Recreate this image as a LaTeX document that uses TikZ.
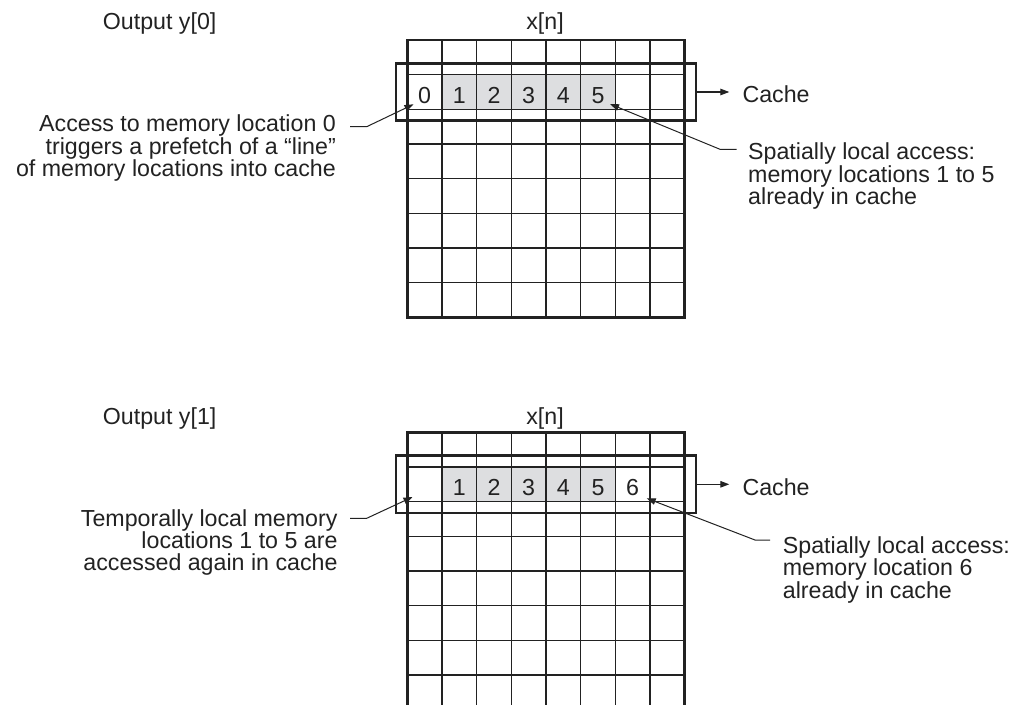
\documentclass[tikz,border=0pt]{standalone}
\usepackage{fontspec}
\setmainfont{Liberation Sans}
\usetikzlibrary{arrows.meta,calc}
\definecolor{ink}{RGB}{34,34,34}
\definecolor{cellgray}{RGB}{221,222,224}
\begin{document}
\begin{tikzpicture}[x=1pt,y=-1pt,
  txt/.style={font=\fontsize{23.2}{21.4}\selectfont, inner sep=0pt, text=ink},
  gridline/.style={line width=1.3pt, draw=ink},
  frame/.style={line width=2.6pt, draw=ink},
  leader/.style={line width=1pt, draw=ink},
  tipa/.style={-{Triangle[length=9pt,width=6.5pt]}},
  cachebox/.style={frame, minimum width=300pt, minimum height=57.4pt, inner sep=0pt},
]
\clip (0,0) rectangle (1016,704);
\fill[white] (0,0) rectangle (1016,704);
\def\gx{407.3}
\def\cw{34.675}
% ---------- two panels: grid, grey cells, cache box ----------
\foreach \p/\oy in {A/0,B/392.3}{
  \begin{scope}[shift={(0,\oy)}]
    \fill[cellgray] (\gx+\cw,40+\cw) rectangle (\gx+6*\cw,40+2*\cw);
    \foreach \i in {1,...,7}{
      \draw[gridline] (\gx+\i*\cw,40) -- (\gx+\i*\cw,40+8*\cw);
      \draw[gridline] (\gx,40+\i*\cw) -- (\gx+8*\cw,40+\i*\cw);
    }
    \draw[frame] (\gx,40) rectangle (\gx+8*\cw,40+8*\cw);
    \node[cachebox] (cache\p) at (546,92) {};
    \node[txt, anchor=west] (cachelbl\p) at (742.3,94.5) {Cache};
    \draw[leader, line width=1.2pt, tipa, shorten >=13pt] (cache\p.east) -- (cache\p.east -| cachelbl\p.west);
  \end{scope}
}
% ---------- titles ----------
\node[txt, anchor=base west] (outA) at (102.7,29.5) {Output y[0]};
\node[txt, anchor=base] (xnA) at (545,29.5) {x[n]};
\node[txt, anchor=base west] (outB) at (102.7,424.3) {Output y[1]};
\node[txt, anchor=base] (xnB) at (545,424.3) {x[n]};
% ---------- digits ----------
\foreach \i in {0,...,5}{
  \node[txt, anchor=base] (dA\i) at (\gx+\i*\cw+0.5*\cw,103.3) {\i};
}
\foreach \i in {1,...,6}{
  \node[txt, anchor=base] (dB\i) at (\gx+\i*\cw+0.5*\cw,495.6) {\i};
}
% ---------- annotation labels ----------
\node[txt, anchor=north east, align=right] (noteA) at (336,114.5)
  {Access to memory location 0\\triggers a prefetch of a “line”\\of memory locations into cache};
\node[txt, anchor=north west, align=left] (spatA) at (748,142.5)
  {Spatially local access:\\memory locations 1 to 5\\already in cache};
\node[txt, anchor=north east, align=right] (noteB) at (337.7,509)
  {Temporally local memory\\locations 1 to 5 are\\accessed again in cache};
\node[txt, anchor=north west, align=left] (spatB) at (782.7,536)
  {Spatially local access:\\memory location 6\\already in cache};
% ---------- leaders ----------
\coordinate (sA) at (350,126.7);
\coordinate (bA) at (366.7,126.7);
\coordinate (tA) at (413.5,104.3);
\draw[leader, tipa] (sA) -- (bA) -- (tA);
\coordinate (sA2) at (736.7,149.3);
\coordinate (bA2) at (720,149.3);
\coordinate (tA2) at (610,104);
\draw[leader, tipa] (sA2) -- (bA2) -- (tA2);
\coordinate (sB) at (350,518.3);
\coordinate (bB) at (366.7,518.3);
\coordinate (tB) at (412.5,497);
\draw[leader, tipa] (sB) -- (bB) -- (tB);
\coordinate (sB2) at (770,540);
\coordinate (bB2) at (755,540);
\coordinate (tB2) at (646.7,498.3);
\draw[leader, tipa] (sB2) -- (bB2) -- (tB2);
\end{tikzpicture}
\end{document}
